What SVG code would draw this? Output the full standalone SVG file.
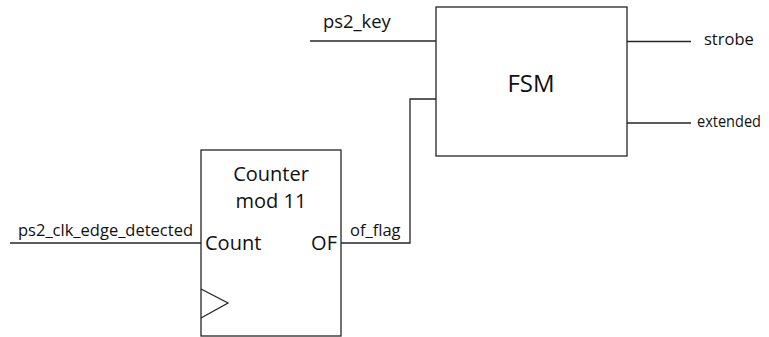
<svg xmlns="http://www.w3.org/2000/svg" width="769" height="337" viewBox="0 0 769 337">
  <style>
    .box { fill: #ffffff; stroke: #262626; stroke-width: 1.3; }
    .wire { fill: none; stroke: #262626; stroke-width: 1.3; }
    text { font-family: "Open Sans", Lato, "Liberation Sans", sans-serif; fill: #111111; }
    .big { font-size: 20px; }
    .sig { font-size: 16.5px; }
  </style>
  <rect width="769" height="337" fill="#ffffff"/>

  <!-- signal wires -->
  <g id="connectors">
    <line class="wire" x1="310" y1="41" x2="436" y2="41"/>
    <line class="wire" x1="627" y1="41.5" x2="691" y2="41.5"/>
    <line class="wire" x1="627" y1="123" x2="691" y2="123"/>
    <line class="wire" x1="10" y1="243" x2="201" y2="243"/>
    <polyline class="wire" points="341,243 410,243 410,99 436,99"/>
  </g>

  <!-- state machine block -->
  <g id="fsm">
    <rect class="box" x="436" y="7" width="191" height="149"/>
    <text x="531" y="92" font-size="24" text-anchor="middle">FSM</text>
  </g>

  <!-- modulo-11 counter -->
  <g id="counter">
    <rect class="box" x="201" y="150" width="140" height="186"/>
    <text class="big" x="271" y="181" text-anchor="middle">Counter</text>
    <text class="big" x="271" y="208" text-anchor="middle">mod 11</text>
    <text class="big" x="205" y="250">Count</text>
    <text class="big" x="337" y="250" text-anchor="end">OF</text>
    <polyline class="wire" points="201,289 228,303 201,318"/>
  </g>

  <!-- signal names -->
  <g id="labels">
    <text x="323" y="28" font-size="18.4">ps2_key</text>
    <text class="sig" x="704" y="45">strobe</text>
    <text class="sig" x="697" y="127" font-size="15.3" textLength="64" lengthAdjust="spacingAndGlyphs">extended</text>
    <text class="sig" x="18" y="236" textLength="175" lengthAdjust="spacingAndGlyphs">ps2_clk_edge_detected</text>
    <text class="sig" x="350" y="236">of_flag</text>
  </g>
</svg>
